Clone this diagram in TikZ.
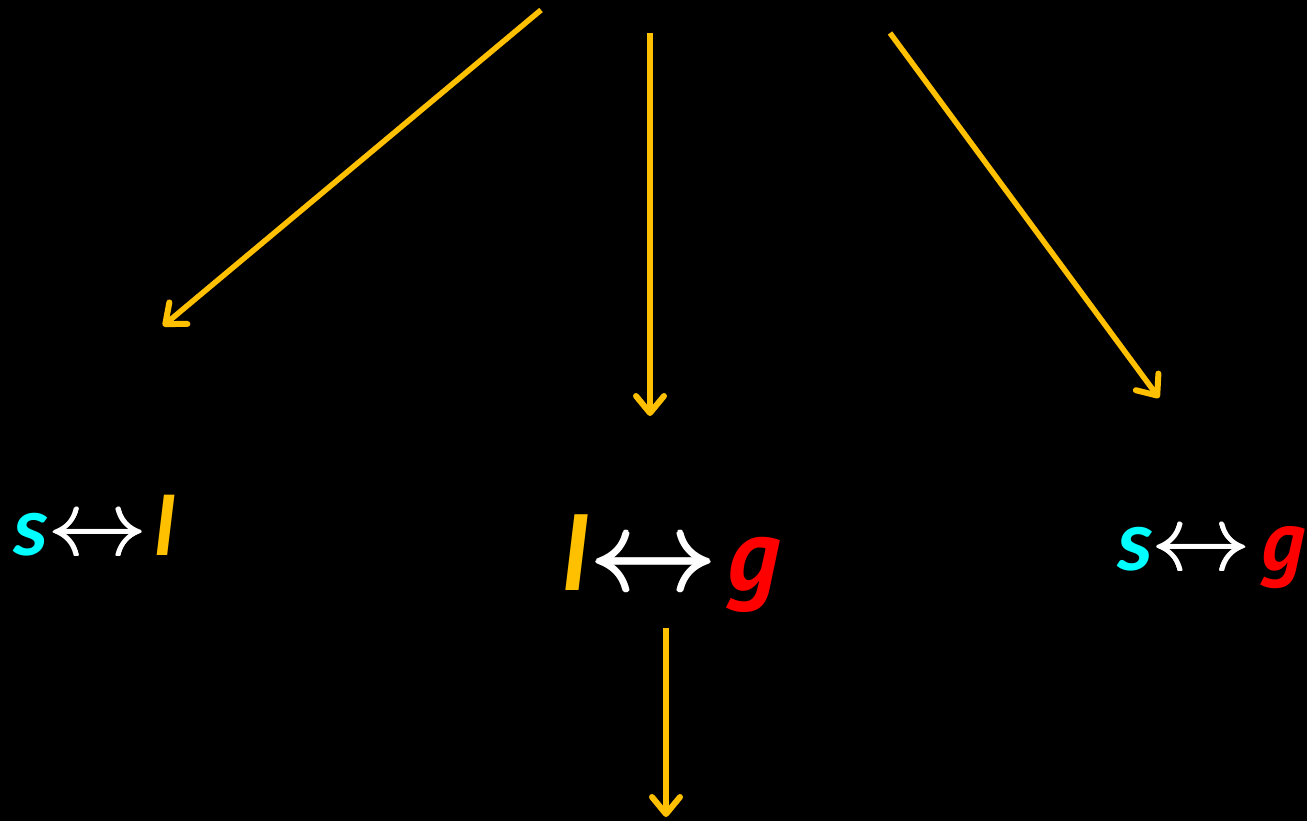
\documentclass[tikz,border=0pt]{standalone}
\usepackage{amsmath,graphicx}
\usepackage{fontspec}
\setmainfont{Carlito}
\newfontfamily\gfont{PT Sans}
\usetikzlibrary{arrows.meta}
\definecolor{ayellow}{RGB}{255,192,0}
\definecolor{acyan}{RGB}{0,255,255}
\definecolor{ared}{RGB}{255,0,0}
\newcommand{\fatarr}{\leavevmode\rlap{\raisebox{0.25pt}{$\leftrightarrow$}}\rlap{\raisebox{-0.25pt}{$\leftrightarrow$}}\rlap{\kern0.2pt$\leftrightarrow$}\rlap{\kern-0.2pt$\leftrightarrow$}$\leftrightarrow$}
\newcommand{\biarrow}[2]{\textcolor{white}{\resizebox{#1}{#2}{\fatarr}}}
\newcommand{\redg}[1]{\textcolor{ared}{{\gfont\fontsize{#1}{#1}\selectfont\bfseries\itshape g}}}
\tikzset{
  conn/.style={draw=ayellow, line width=5.5pt, -{Straight Barb[round, length=17pt, width=28pt, line width=6pt]}},
  lbl/.style={inner sep=0pt, anchor=base west},
}
\begin{document}
\begin{tikzpicture}[x=1pt,y=-1pt]
\fill[black] (0,0) rectangle (1307,821);
\useasboundingbox (0,0) rectangle (1307,821);
\coordinate (s1) at (541,10);
\coordinate (e1) at (163,326);
\coordinate (s2) at (650,33);
\coordinate (e2) at (650,416);
\coordinate (s3) at (890,33);
\coordinate (e3) at (1159,398);
\coordinate (s4) at (666,628);
\coordinate (e4) at (666,817);
\node[lbl, font=\fontsize{86}{86}\selectfont\bfseries\itshape] (sl) at (13,555)
  {\textcolor{acyan}{s}\hspace{1pt}\biarrow{99pt}{35pt}\hspace{7pt}\textcolor{ayellow}{l}};
\node[lbl, font=\fontsize{108}{108}\selectfont\bfseries\itshape] (lg) at (562,590)
  {\textcolor{ayellow}{l}\hspace{1pt}\biarrow{128pt}{43pt}\hspace{10pt}\redg{104}};
\node[lbl, font=\fontsize{88}{88}\selectfont\bfseries\itshape] (sg) at (1117,570)
  {\textcolor{acyan}{s}\hspace{0pt}\biarrow{99pt}{35pt}\hspace{11pt}\redg{86}};
\draw[conn] (s1) -- (e1);
\draw[conn] (s2) -- (e2);
\draw[conn] (s3) -- (e3);
\draw[conn] (s4) -- (e4);
\end{tikzpicture}
\end{document}
